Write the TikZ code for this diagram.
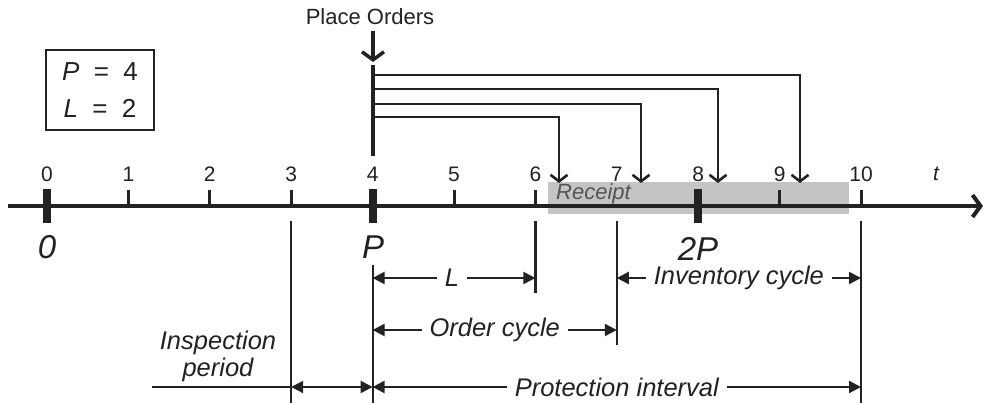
\documentclass[tikz,border=0pt]{standalone}
\usepackage{fontspec}
\setmainfont{Liberation Sans}
\usetikzlibrary{arrows.meta}
\definecolor{ink}{RGB}{34,34,34}
\definecolor{bandgray}{RGB}{196,196,196}
\definecolor{bandtext}{RGB}{85,85,85}
\tikzset{
  axisline/.style={ink, line width=4pt, -{Straight Barb[length=8pt,width=22pt]}},
  smalltick/.style={ink, line width=3pt},
  bigtick/.style={ink, line width=8pt},
  num/.style={font=\fontsize{21}{21}\selectfont, text=ink, inner sep=0pt},
  biglab/.style={font=\fontsize{33}{33}\selectfont\itshape, text=ink, inner sep=0pt},
  caption/.style={font=\fontsize{22}{22}\selectfont, text=ink, inner sep=0pt},
  vline/.style={ink, line width=2.2pt},
  orderline/.style={ink, line width=2.6pt, -{Straight Barb[length=6.5pt,width=17pt]}},
  dimline/.style={ink, line width=2.2pt, {Triangle[length=12pt,width=12pt]}-{Triangle[length=12pt,width=12pt]}},
  dimlab/.style={font=\fontsize{25.5}{25.5}\selectfont\itshape, text=ink, fill=white, inner xsep=8pt, inner ysep=1pt},
  infobox/.style={draw=ink, line width=2.4pt, minimum width=108pt, minimum height=80pt, align=center,
    font=\fontsize{26}{37}\selectfont, text=ink},
}
\begin{document}
\begin{tikzpicture}[x=1pt,y=-1pt]
\useasboundingbox[fill=white] (0,0) rectangle (984,403);

% shaded receipt window
\fill[bandgray] (548,182) rectangle (849,214);
\node[font=\fontsize{22}{22}\selectfont\itshape, text=bandtext, anchor=west, inner sep=0pt] (rcpt) at (556,194) {Receipt};

% time axis
\coordinate (axL) at (8,206);
\coordinate (axR) at (983,206);
\draw[axisline] (axL) -- (axR);

% ticks and their numbers (the tick at 7 sits under the Receipt label)
\foreach \i in {0,...,10}{
  \coordinate (c\i) at ({47+81.4*\i},206);
  \node[num] (n\i) at ({47+81.4*\i},174) {\i};
}
\foreach \i in {1,2,3,5,6,9,10}{
  \draw[smalltick] (c\i) -- ++(0,-16);
}
\foreach \i in {0,4,8}{
  \draw[bigtick] ([yshift=17pt]c\i) -- ([yshift=-17pt]c\i);
}
\node[font=\fontsize{21}{21}\selectfont\itshape, text=ink, inner sep=0pt] (tlab) at (936,174) {t};

% period labels under the axis
\node[biglab] (zero) at (47,247) {0};
\node[biglab] (p1) at (373,247) {P};
\node[biglab] (p2) at (698,249) {2P};

% parameter box
\node[infobox] (params) at (100,90) {\textit{P}\hspace*{.55em}=\hspace*{.55em}4\\\textit{L}\hspace*{.55em}=\hspace*{.55em}2};

% order placement
\node[caption] (place) at (370,17) {Place Orders};
\coordinate (plTop) at (373,31);
\coordinate (plTip) at (373,62);
\draw[ink, line width=3.5pt, -{Straight Barb[length=8pt,width=22pt]}] (plTop) -- (plTip);
\coordinate (barTop) at (373,65);
\coordinate (barBot) at (373,156);
\draw[ink, line width=4.5pt] (barTop) -- (barBot);

\coordinate (o9) at (373,75);   \coordinate (r9) at (800,183);
\coordinate (o8) at (373,89);   \coordinate (r8) at (718,183);
\coordinate (o7) at (373,104);  \coordinate (r7) at (641,183);
\coordinate (o6) at (373,117);  \coordinate (r6) at (559,183);
\foreach \k in {6,7,8,9}{
  \draw[orderline] (o\k) -| (r\k);
}

% vertical reference lines below the axis
\coordinate (v3a) at (291.2,221);  \coordinate (v3b) at (291.2,403);
\coordinate (v4a) at (372.6,265);  \coordinate (v4b) at (372.6,403);
\coordinate (v6a) at (535.4,221);  \coordinate (v6b) at (535.4,293);
\coordinate (v7a) at (616.8,221);  \coordinate (v7b) at (616.8,345);
\coordinate (v10a) at (861,221);   \coordinate (v10b) at (861,403);
\foreach \v in {3,4,6,7,10}{
  \draw[vline] (v\v a) -- (v\v b);
}

% interval dimensions
\coordinate (dLa) at (372.6,278);  \coordinate (dLb) at (535.4,278);
\draw[dimline] (dLa) -- node[dimlab, xshift=-2pt] (lablL) {L} (dLb);

\coordinate (dIa) at (616.8,278);  \coordinate (dIb) at (861,278);
\draw[dimline] (dIa) -- node[dimlab] (lablI) {Inventory cycle} (dIb);

\coordinate (dOa) at (372.6,330);  \coordinate (dOb) at (616.8,330);
\draw[dimline] (dOa) -- node[dimlab] (lablO) {Order cycle} (dOb);

\coordinate (dPa) at (372.6,387);  \coordinate (dPb) at (861,387);
\draw[dimline] (dPa) -- node[dimlab] (lablP) {Protection interval} (dPb);

\coordinate (dSa) at (152,387);    \coordinate (dSb) at (291.2,387);
\draw[vline] (dSa) -- (dSb);
\draw[dimline] (dSb) -- (dPa);
\node[font=\fontsize{25.5}{27}\selectfont\itshape, text=ink, align=center, inner sep=0pt] (insp) at (218,356) {Inspection\\period};
\end{tikzpicture}
\end{document}
